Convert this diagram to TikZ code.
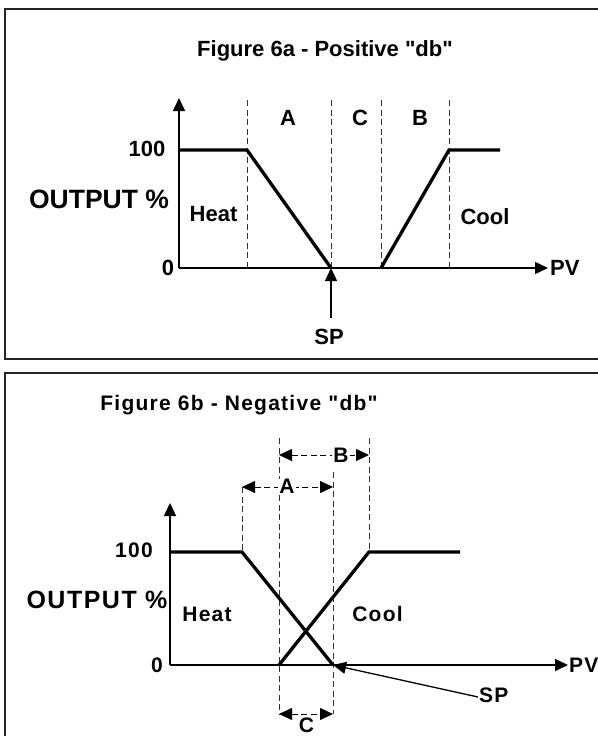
\documentclass[tikz,border=0pt]{standalone}
\usepackage{fontspec}
\newfontfamily\arialfont{Liberation Sans}
\newfontfamily\spacedfont{Liberation Sans}[LetterSpace=6]
\usetikzlibrary{arrows.meta}
\tikzset{
  >={Triangle[length=13pt,width=12pt]},
  frame/.style={draw=black!85, line width=1.8pt},
  axis/.style={line width=1.5pt, ->},
  curve/.style={line width=3.3pt, line join=miter},
  guide/.style={line width=0.8pt, dash pattern=on 6pt off 3.5pt, black!80},
  dim/.style={line width=0.8pt, dash pattern=on 6pt off 3.5pt, black, <->},
  leader/.style={line width=1.3pt, ->},
  txt/.style={inner sep=0pt, text height=15.8pt, text depth=0pt, font=\arialfont\bfseries\fontsize{22}{22}\selectfont},
  bigtxt/.style={inner sep=0pt, text height=19pt, text depth=0pt, font=\arialfont\bfseries\fontsize{26.5}{26.5}\selectfont},
  stxt/.style={inner sep=0pt, text height=15pt, text depth=0pt, font=\spacedfont\bfseries\fontsize{21}{21}\selectfont},
  sbigtxt/.style={inner sep=0pt, text height=17.9pt, text depth=0pt, font=\spacedfont\bfseries\fontsize{25}{25}\selectfont}
}
\begin{document}
\begin{tikzpicture}[x=1pt,y=-1pt]
\useasboundingbox (0,0) rectangle (597,736);
\fill[white] (0,0) rectangle (597,736);

% ---------- frames ----------
\draw[frame] (5,9) rectangle (604,359);
\draw[frame] (5,373) rectangle (604,745);

% ---------- Figure 6a ----------
\coordinate (oA) at (179,268);
\coordinate (yA) at (179,98);
\coordinate (xA) at (548,268);
\coordinate (hA1) at (179,150);
\coordinate (hA2) at (247,150);
\coordinate (hA3) at (331,268);
\coordinate (cA1) at (381,268);
\coordinate (cA2) at (449,150);
\coordinate (cA3) at (500,150);
\coordinate (gA1t) at (247,100); \coordinate (gA1b) at (247,268);
\coordinate (gA2t) at (331,100); \coordinate (gA2b) at (331,268);
\coordinate (gA3t) at (381,100); \coordinate (gA3b) at (381,268);
\coordinate (gA4t) at (449,100); \coordinate (gA4b) at (449,268);
\coordinate (spA) at (331,318);

\draw[guide] (gA1t) -- (gA1b);
\draw[guide] (gA2t) -- (gA2b);
\draw[guide] (gA3t) -- (gA3b);
\draw[guide] (gA4t) -- (gA4b);
\draw[axis] (oA) -- (yA);
\draw[axis] (oA) -- (xA);
\draw[curve] (hA1) -- (hA2) -- (hA3);
\draw[curve] (cA1) -- (cA2) -- (cA3);
\draw[leader] (spA) -- (hA3);

\node[txt] (titleA) at (325,49) {Figure 6a - Positive "db"};
\node[txt] (lA) at (288,118) {A};
\node[txt] (lC) at (360,118) {C};
\node[txt] (lB) at (420,118) {B};
\node[txt] (hundA) at (147,149) {100};
\node[bigtxt] (outA) at (99,199) {OUTPUT \%};
\node[txt] (heatA) at (213.5,214) {Heat};
\node[txt] (coolA) at (485,217) {Cool};
\node[txt] (zeroA) at (168,268) {0};
\node[txt, anchor=west] (pvA) at (550,268) {PV};
\node[txt] (spAl) at (329,336.5) {SP};

% ---------- Figure 6b ----------
\coordinate (oB) at (170,665);
\coordinate (yB) at (170,503);
\coordinate (xB) at (568,665);
\coordinate (hB1) at (170,552);
\coordinate (hB2) at (242,552);
\coordinate (hB3) at (333,665);
\coordinate (cB1) at (279,665);
\coordinate (cB2) at (369,552);
\coordinate (cB3) at (460,552);
\coordinate (gB1t) at (242,487); \coordinate (gB1b) at (242,552);
\coordinate (gB2t) at (279,438); \coordinate (gB2b) at (279,714);
\coordinate (gB3t) at (333,472); \coordinate (gB3b) at (333,714);
\coordinate (gB4t) at (369,438); \coordinate (gB4b) at (369,552);
\coordinate (dBl) at (279,455); \coordinate (dBr) at (369,455);
\coordinate (dAl) at (242,487); \coordinate (dAr) at (333,487);
\coordinate (dCl) at (279,714); \coordinate (dCr) at (333,714);
\coordinate (spB) at (478,697);

\draw[guide] (gB1t) -- (gB1b);
\draw[guide] (gB2t) -- (gB2b);
\draw[guide] (gB3t) -- (gB3b);
\draw[guide] (gB4t) -- (gB4b);
\draw[dim] (dBl) -- (dBr);
\draw[dim] (dAl) -- (dAr);
\draw[dim] (dCl) -- (dCr);
\draw[axis] (oB) -- (yB);
\draw[axis] (oB) -- (xB);
\draw[curve] (hB1) -- (hB2) -- (hB3);
\draw[curve] (cB1) -- (cB2) -- (cB3);
\draw[leader] (spB) -- (hB3);

\node[stxt] (titleB) at (239,403) {Figure 6b - Negative "db"};
\node[stxt, fill=white, inner xsep=1pt] (lBb) at (341,455) {B};
\node[stxt, fill=white, inner xsep=1pt] (lAb) at (287,486) {A};
\node[stxt] (lCb) at (306.5,725) {C};
\node[stxt] (hundB) at (134,550) {100};
\node[sbigtxt] (outB) at (97,600) {OUTPUT \%};
\node[stxt] (heatB) at (207,614) {Heat};
\node[stxt] (coolB) at (377.5,614) {Cool};
\node[stxt] (zeroB) at (157,665) {0};
\node[stxt, anchor=west] (pvB) at (569,665) {PV};
\node[stxt, anchor=west] (spBl) at (479,695) {SP};
\end{tikzpicture}
\end{document}
